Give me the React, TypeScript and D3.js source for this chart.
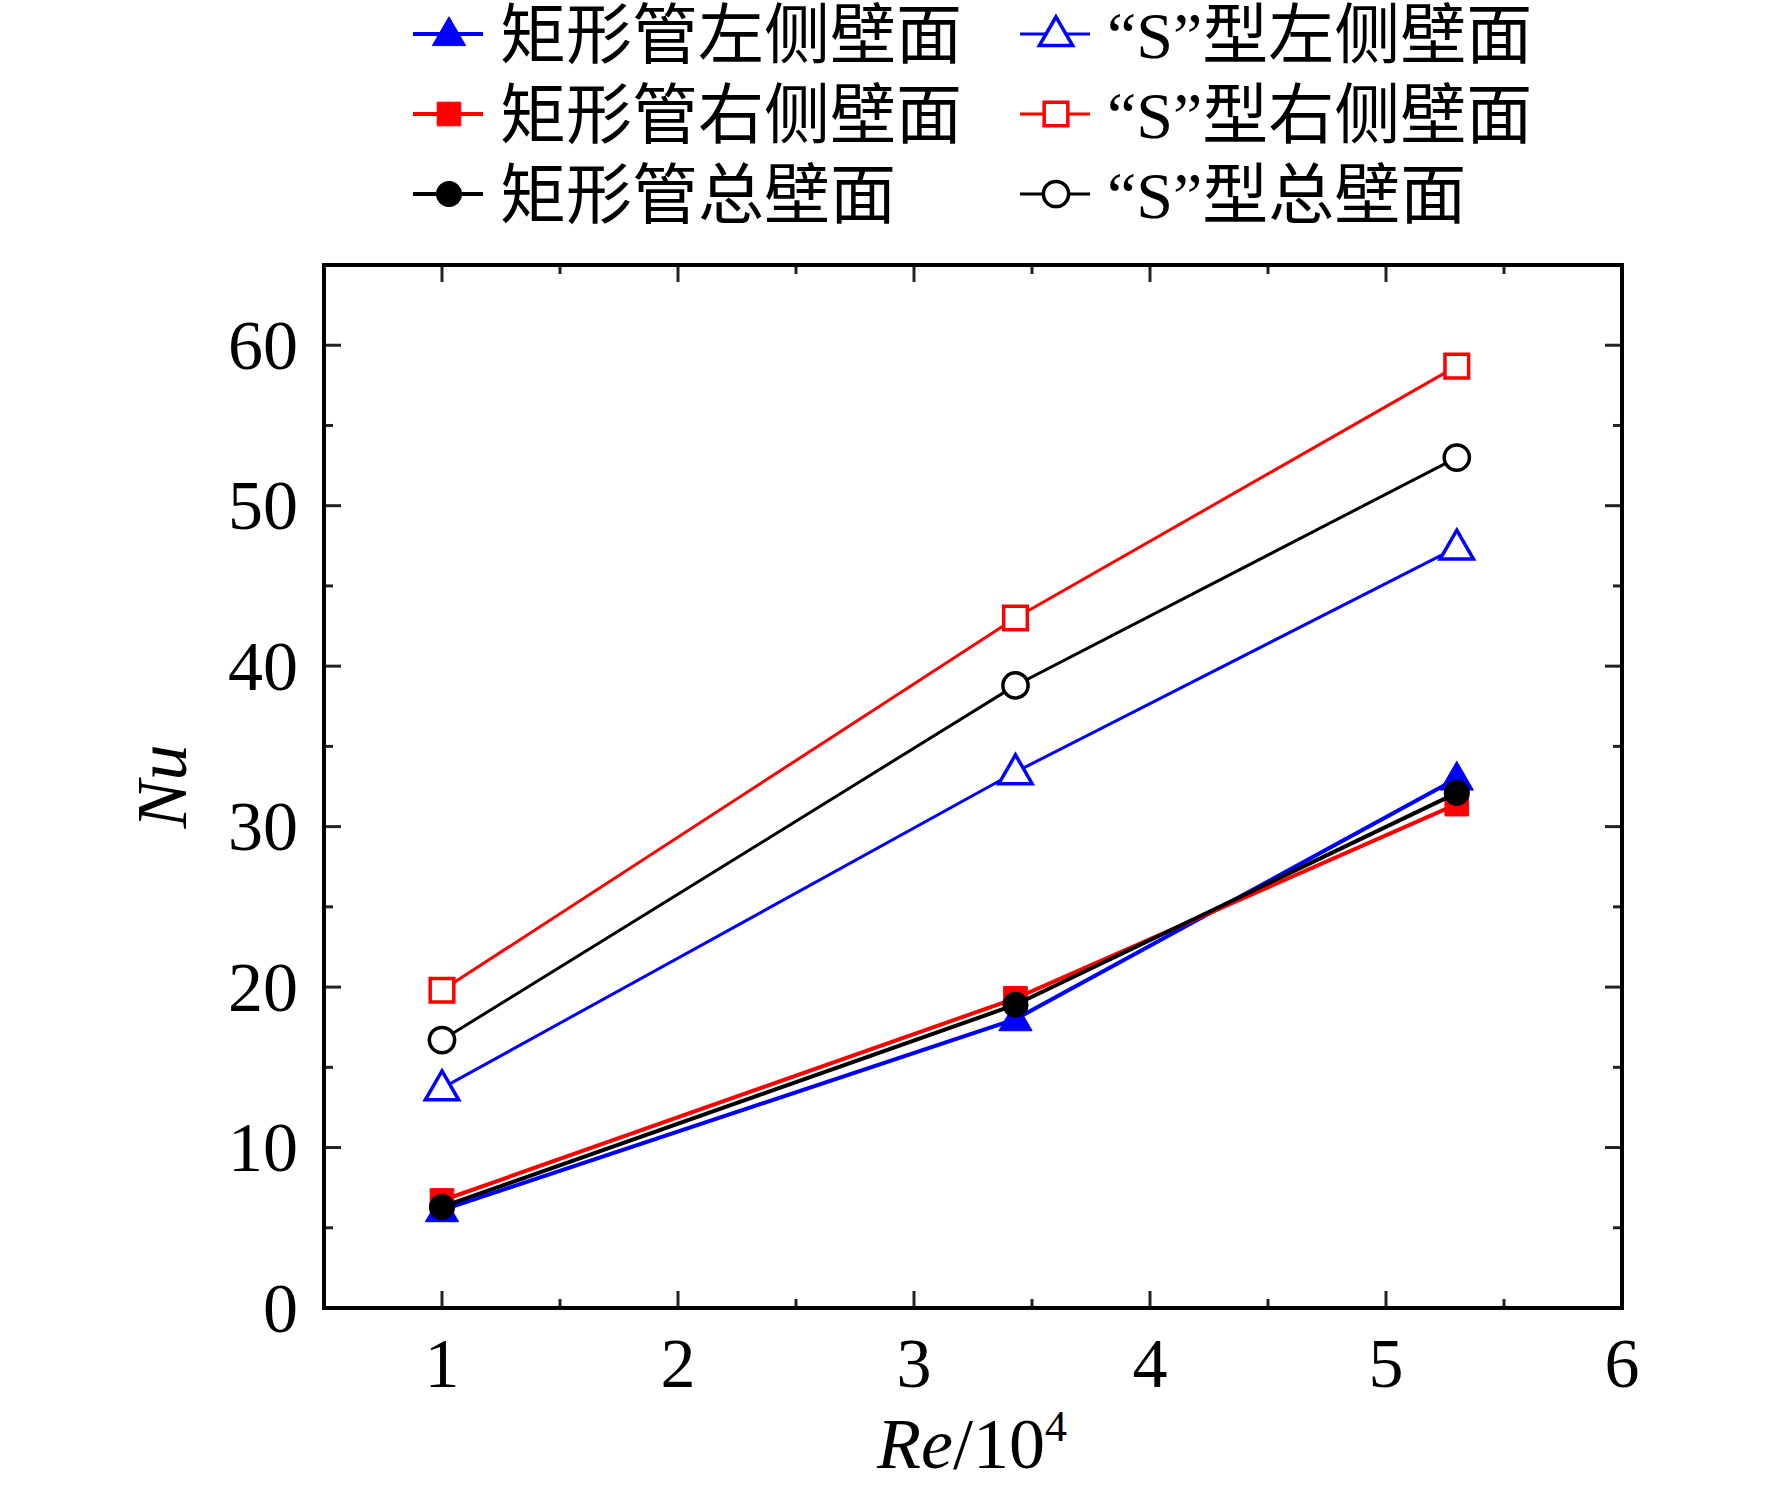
import React from "react"
import * as d3 from "d3"

// Re/10^4 values of the three measured cases
const reValues = [1, 3.43, 5.3]

// Nu, rectangular duct
const rectLeft = [6.1, 18.0, 33.0]
const rectRight = [6.7, 19.3, 31.4]
const rectTotal = [6.3, 18.9, 32.1]

// Nu, "S" duct
const sLeft = [13.7, 33.4, 47.4]
const sRight = [19.8, 43.0, 58.7]
const sTotal = [16.7, 38.8, 53.0]

const xTicks = [1, 2, 3, 4, 5, 6]
const xMinorTicks = [1.5, 2.5, 3.5, 4.5, 5.5]
const yTicks = [0, 10, 20, 30, 40, 50, 60]
const yMinorTicks = [5, 15, 25, 35, 45, 55]

type Shape = "triangle" | "square" | "circle"

interface Serie {
  name: string
  values: number[]
  color: string
  shape: Shape
  filled: boolean
}

const series: Serie[] = [
  { name: "矩形管左侧壁面", values: rectLeft, color: "#0000ff", shape: "triangle", filled: true },
  { name: "矩形管右侧壁面", values: rectRight, color: "#ff0000", shape: "square", filled: true },
  { name: "矩形管总壁面", values: rectTotal, color: "#000000", shape: "circle", filled: true },
  { name: "“S”型左侧壁面", values: sLeft, color: "#0000ff", shape: "triangle", filled: false },
  { name: "“S”型右侧壁面", values: sRight, color: "#ff0000", shape: "square", filled: false },
  { name: "“S”型总壁面", values: sTotal, color: "#000000", shape: "circle", filled: false },
]

const W = 1772
const H = 1488
const plot = { left: 324, right: 1622, top: 265, bottom: 1308 }
const serif = "Liberation Serif, Times New Roman, Times, serif"
const cjk = "Liberation Serif, Times New Roman, Noto Sans CJK SC, serif"

const symbolPath = (shape: Shape) => {
  if (shape === "triangle") return d3.symbol(d3.symbolTriangle, 480)()
  if (shape === "square") return d3.symbol(d3.symbolSquare, 560)()
  return d3.symbol(d3.symbolCircle, 500)()
}

function Marker({ s, x, y }: { s: Serie; x: number; y: number }) {
  const dy = s.shape === "triangle" ? 2 : 0
  return (
    <path
      d={symbolPath(s.shape) || ""}
      transform={`translate(${x},${y + dy})`}
      fill={s.filled ? s.color : "#ffffff"}
      stroke={s.color}
      strokeWidth={s.filled ? 1 : 3.5}
    />
  )
}

export default function App() {
  const x = d3.scaleLinear().domain([0.5, 6]).range([plot.left, plot.right])
  const y = d3.scaleLinear().domain([0, 65]).range([plot.bottom, plot.top])

  const line = d3
    .line<number>()
    .x((_, i) => x(reValues[i]))
    .y((d) => y(d))

  const majorLen = 17
  const minorLen = 9

  return (
    <div style={{ position: "absolute", left: 0, top: 0 }}>
      <svg width={W} height={H} viewBox={`0 0 ${W} ${H}`} style={{ display: "block", background: "#fff" }}>
        <rect x={0} y={0} width={W} height={H} fill="#ffffff" />

        {/* ticks, inward on all four sides */}
        <g stroke="#222" strokeWidth={3}>
          {xTicks.map((t) => (
            <g key={`xt${t}`}>
              <line x1={x(t)} x2={x(t)} y1={plot.bottom} y2={plot.bottom - majorLen} />
              <line x1={x(t)} x2={x(t)} y1={plot.top} y2={plot.top + majorLen} />
            </g>
          ))}
          {xMinorTicks.map((t) => (
            <g key={`xm${t}`}>
              <line x1={x(t)} x2={x(t)} y1={plot.bottom} y2={plot.bottom - minorLen} />
              <line x1={x(t)} x2={x(t)} y1={plot.top} y2={plot.top + minorLen} />
            </g>
          ))}
          {yTicks.map((t) => (
            <g key={`yt${t}`}>
              <line x1={plot.left} x2={plot.left + majorLen} y1={y(t)} y2={y(t)} />
              <line x1={plot.right} x2={plot.right - majorLen} y1={y(t)} y2={y(t)} />
            </g>
          ))}
          {yMinorTicks.map((t) => (
            <g key={`ym${t}`}>
              <line x1={plot.left} x2={plot.left + minorLen} y1={y(t)} y2={y(t)} />
              <line x1={plot.right} x2={plot.right - minorLen} y1={y(t)} y2={y(t)} />
            </g>
          ))}
        </g>

        {/* tick labels */}
        <g fontFamily={serif} fontSize={70} fill="#000">
          {xTicks.map((t) => (
            <text key={`xl${t}`} x={x(t)} y={1387} textAnchor="middle">
              {t}
            </text>
          ))}
          {yTicks.map((t) => (
            <text key={`yl${t}`} x={298} y={y(t)} dy="0.34em" textAnchor="end">
              {t}
            </text>
          ))}
        </g>

        {/* axis titles */}
        <text x={972} y={1468} textAnchor="middle" fontFamily={serif} fontSize={72}>
          <tspan fontStyle="italic">Re</tspan>
          <tspan>/10</tspan>
          <tspan fontSize={44} dy={-27}>
            4
          </tspan>
        </text>
        <text
          transform={`translate(186,${(plot.top + plot.bottom) / 2}) rotate(-90)`}
          textAnchor="middle"
          fontFamily={serif}
          fontStyle="italic"
          fontSize={72}
        >
          Nu
        </text>

        {/* series */}
        {series.map((s) => (
          <g key={s.name}>
            <path d={line(s.values) || ""} fill="none" stroke={s.color} strokeWidth={s.filled ? 4 : 3} />
            {s.values.map((v, i) => (
              <Marker key={i} s={s} x={x(reValues[i])} y={y(v)} />
            ))}
          </g>
        ))}

        {/* frame */}
        <rect
          x={plot.left}
          y={plot.top}
          width={plot.right - plot.left}
          height={plot.bottom - plot.top}
          fill="none"
          stroke="#000"
          strokeWidth={4}
        />

        {/* legend, two columns of three */}
        {series.map((s, i) => {
          const col = Math.floor(i / 3)
          const row = i % 3
          const lx = col === 0 ? 413 : 1020
          const ly = 34 + row * 80
          return (
            <g key={`lg${i}`}>
              <line x1={lx} x2={lx + 70} y1={ly} y2={ly} stroke={s.color} strokeWidth={s.filled ? 4 : 3} />
              <Marker s={s} x={lx + 36} y={ly} />
              <text x={lx + 87} y={ly + 1} dominantBaseline="central" fontFamily={cjk} fontSize={66} fill="#000">
                {s.name}
              </text>
            </g>
          )
        })}
      </svg>
    </div>
  )
}
